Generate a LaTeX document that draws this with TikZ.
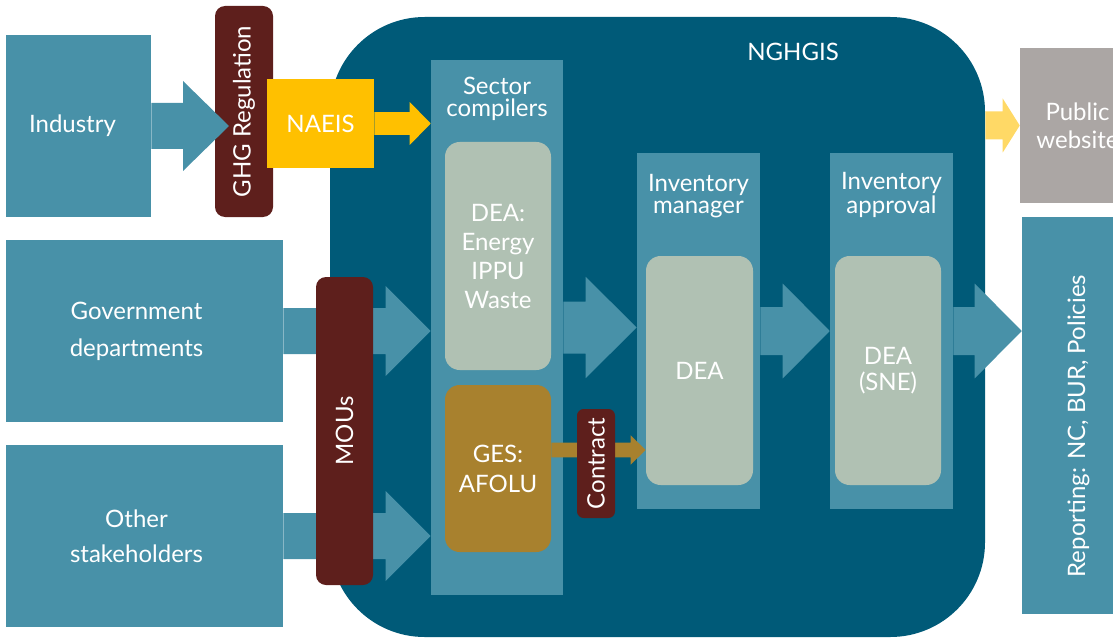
\documentclass[tikz,border=0pt]{standalone}
\usepackage{fontspec}
\setmainfont{Lato}
\usetikzlibrary{calc}

\definecolor{ghgteal}{HTML}{4891A8}
\definecolor{ghgnavy}{HTML}{005A78}
\definecolor{ghgsage}{HTML}{B0C1B3}
\definecolor{ghgochre}{HTML}{A8812E}
\definecolor{ghgmaroon}{HTML}{5E1F1C}
\definecolor{ghgyellow}{HTML}{FFC000}
\definecolor{ghgpale}{HTML}{FFD966}
\definecolor{ghggrey}{HTML}{ABA6A4}

% block arrow: colour, from, to, shaft half width, head half width, head length
\newcommand{\fatarrow}[6]{%
  \fill[#1] let \p1=#2, \p2=#3 in
    (\x1,\y1+#4) -- (\x2-#6,\y1+#4) -- (\x2-#6,\y1+#5) -- (\x2,\y1)
    -- (\x2-#6,\y1-#5) -- (\x2-#6,\y1-#4) -- (\x1,\y1-#4) -- cycle;}

\begin{document}
\begin{tikzpicture}[x=0.75pt,y=-0.75pt]
	\tikzstyle{txt} = [text=white, align=center, inner sep=0pt, font={\fontsize{18}{21}\selectfont}]
	\tikzstyle{block} = [txt, fill=ghgteal, rectangle]
	\tikzstyle{column} = [fill=ghgteal, rectangle, inner sep=0pt]
	\tikzstyle{inner} = [txt, fill=ghgsage, rounded corners=11pt]
	\tikzstyle{bar} = [txt, fill=ghgmaroon, rounded corners=7.5pt, rotate=90]
	\useasboundingbox (0,0) rectangle (1113,638);
	\clip (0,0) rectangle (1113,638);

	\node[fill=ghgnavy, minimum width=491.25pt, minimum height=465pt, rounded corners=71pt] (nghgis) at (657.5,327) {};
	\node[txt] (nghgislbl) at (793,52) {NGHGIS};

	\node[column, minimum width=99pt, minimum height=401.25pt] (sec) at (497,327.5) {};
	\node[txt, font={\fontsize{18}{16.5}\selectfont}] (sectitle) at (497,99) {Sector\\compilers};
	\node[column, minimum width=92.25pt, minimum height=267pt] (mgr) at (698.5,331) {};
	\node[txt, font={\fontsize{18}{16.5}\selectfont}] (mgrtitle) at (698.5,196) {Inventory\\manager};
	\node[column, minimum width=92.25pt, minimum height=267pt] (appr) at (891.5,331) {};
	\node[txt, font={\fontsize{18}{18}\selectfont}] (apprtitle) at (891.5,195) {Inventory\\approval};

	\node[inner, minimum width=79.5pt, minimum height=171pt, font={\fontsize{18}{21.75}\selectfont}] (dea1) at (498,256) {DEA:\\Energy\\IPPU\\Waste};
	\node[inner, fill=ghgochre, minimum width=79.5pt, minimum height=125.25pt, font={\fontsize{18}{22.5}\selectfont}] (ges) at (498,468.5) {GES:\\AFOLU};
	\node[inner, minimum width=80.25pt, minimum height=171.75pt] (dea2) at (699.5,370.5) {DEA};
	\node[inner, minimum width=79.5pt, minimum height=171.75pt, font={\fontsize{18}{20}\selectfont}] (dea3) at (888,370.5) {DEA\\(SNE)};

	\node[block, minimum width=108.75pt, minimum height=136.5pt] (ind) at (78.5,126) {Industry\hspace*{9pt}};
	\node[block, minimum width=207.75pt, minimum height=136.5pt, font={\fontsize{18}{27.75}\selectfont}] (gov) at (144.5,331) {Government\hspace*{12pt}\\departments\hspace*{12pt}};
	\node[block, minimum width=207.75pt, minimum height=136.5pt, font={\fontsize{18}{26.25}\selectfont}] (oth) at (144.5,536) {Other\hspace*{12pt}\\stakeholders\hspace*{12pt}};
	\node[block, fill=ghggrey, minimum width=86.25pt, minimum height=116.25pt] (pub) at (1077.5,125.5) {Public\\website};
	\node[block, rotate=90, minimum width=297.75pt, minimum height=84.75pt] (rep) at (1078.5,415.5) {Reporting: NC, BUR, Policies\hspace*{16pt}};

	\fatarrow{ghgteal}{(gov.east)}{(sec.west)}{17.25pt}{33.75pt}{33.75pt}
	\fatarrow{ghgteal}{(oth.east)}{(sec.west)}{17.25pt}{33.75pt}{33.75pt}
	\fatarrow{ghgteal}{(sec.east)}{(mgr.west)}{19.5pt}{37.9pt}{38.25pt}
	\fatarrow{ghgteal}{(mgr.east)}{(appr.west)}{18pt}{35.6pt}{35.25pt}
	\fatarrow{ghgteal}{(appr.east)}{(rep.north)}{18pt}{35.6pt}{35.25pt}
	\fatarrow{ghgochre}{($(ges.east)+(0,-18.5)$)}{(dea2.west)}{5.6pt}{10.9pt}{11.25pt}
	\fatarrow{ghgpale}{(nghgis.east |- pub.west)}{(pub.west)}{10.5pt}{20.25pt}{12.75pt}

	\node[bar, minimum width=158.25pt, minimum height=43.5pt] (reg) at (244,111.5) {GHG Regulation};
	\fatarrow{ghgteal}{(ind.east)}{($(reg.center)+(-15,0)$)}{17.25pt}{33.75pt}{34.5pt}
	\node[block, fill=ghgyellow, minimum width=80.25pt, minimum height=66.75pt] (naeis) at (320.5,123.5) {NAEIS};
	\fatarrow{ghgyellow}{(naeis.east)}{(sec.west)}{8.6pt}{16.1pt}{15.75pt}

	\node[bar, minimum width=231pt, minimum height=42.75pt] (mou) at (344.5,431) {MOUs};
	\node[bar, minimum width=81.75pt, minimum height=28.5pt, rounded corners=5pt] (contract) at (596,463.5) {Contract};
\end{tikzpicture}
\end{document}
